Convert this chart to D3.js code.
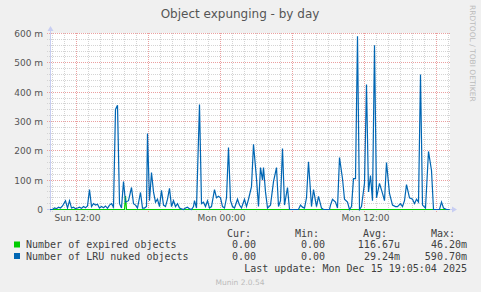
<!DOCTYPE html>
<html><head><meta charset="utf-8">
<script src="https://cdn.jsdelivr.net/npm/d3@7"></script>
<style>html,body{margin:0;padding:0;background:#F0F0F0;}svg{display:block;}</style>
</head><body>
<script>
// ---- data (values in milli-units "m") ----
const title = "Object expunging - by day";
const startTime = new Date(2025, 11, 14, 9, 45); // 5-minute steps from here
const stepMinutes = 5;
const totalSteps = 400;
const yTicks = [0, 100, 200, 300, 400, 500, 600];
const yTickLabels = ["0", "100 m", "200 m", "300 m", "400 m", "500 m", "600 m"];
const xTickLabels = ["Sun 12:00", "Mon 00:00", "Mon 12:00"];
const seriesNames = ["Number of expired objects", "Number of LRU nuked objects"];
const seriesColors = ["#00CC00", "#0066B3"];
const curVals = ["0.00", "0.00"];
const minVals = ["0.00", "0.00"];
const avgVals = ["116.67u", "29.24m"];
const maxVals = ["46.20m", "590.70m"];
const lastUpdate = "Last update: Mon Dec 15 19:05:04 2025";

const expiredSteps = [0, 75, 76, 77, 400];
const expiredValues = [0, 0, 46.2, 0, 0];

const lruSteps = [
  0,3,5,7,9,11,13,16,18,20,
  22,24,26,28,30,32,34,36,38,40,
  42,44,46,48,50,52,54,56,58,60,
  62,64,66,68,70,72,74,76,79,82,
  84,86,88,91,93,95,97,98,100,102,
  104,106,108,110,112,114,116,118,120,122,
  124,126,128,130,132,134,136,138,140,142,
  144,145,147,150,152,154,156,158,160,162,
  165,167,169,171,173,175,177,179,181,183,
  185,188,190,192,195,197,199,202,204,207,
  209,211,213,214,216,218,221,224,227,229,
  231,233,235,238,240,243,246,249,251,253,
  255,257,259,262,264,267,269,272,274,277,
  280,281,283,286,288,290,293,295,298,300,
  302,304,306,308,310,312,315,317,319,321,
  323,325,327,330,333,335,337,340,343,346,
  348,351,353,355,357,360,363,365,367,369,
  371,373,376,379,382,384,387,390,392,394,
  397,400];
const lruValues = [
  0,0,5,3,8,5,12,30,5,30,
  5,8,3,5,8,4,10,6,12,68,
  10,20,15,18,5,10,6,12,4,15,
  20,8,341,355,20,5,95,25,30,75,
  20,15,5,58,5,5,10,259,30,126,
  60,25,35,10,65,15,10,35,72,10,
  30,10,20,5,2,0,5,8,2,0,
  10,30,5,358,20,25,10,30,5,10,
  68,40,45,40,10,5,40,211,30,10,
  5,35,15,5,35,10,35,78,222,105,
  10,143,100,143,60,5,15,95,143,10,
  30,208,15,75,0,0,0,0,15,8,
  5,40,163,10,68,10,45,5,0,0,
  0,15,35,25,5,177,105,35,25,0,
  10,105,105,590.7,0,10,90,426,60,116,
  30,560,40,89,55,30,160,55,15,10,
  10,20,10,30,85,40,35,20,35,25,
  460,15,5,198,133,0,0,0,25,5,
  0,0];

// ---- drawing ----
const W = 481, H = 292;
const svg = d3.select("body").append("svg").attr("width", W).attr("height", H);
svg.append("rect").attr("width", W).attr("height", H).attr("fill", "#F0F0F0");

const endTime = new Date(startTime.getTime() + totalSteps * stepMinutes * 60000);
const x = d3.scaleTime().domain([startTime, endTime]).range([49.5, 449.5]);
const y = d3.scaleLinear().domain([0, 600]).range([209.5, 33.5]);
const tOf = s => new Date(startTime.getTime() + s * stepMinutes * 60000);
const crisp = v => Math.floor(v) + 0.5;

// canvas
svg.append("rect").attr("x", 50).attr("y", 33).attr("width", 400).attr("height", 176).attr("fill", "#FFFFFF");

const grid = svg.append("g");
// minor vertical (hourly)
x.ticks(d3.timeHour.every(1)).forEach(t => {
  const major = t.getHours() % 6 === 0;
  grid.append("line").attr("x1", crisp(x(t))).attr("x2", crisp(x(t)))
    .attr("y1", 33).attr("y2", 212)
    .attr("stroke", major ? "#EBA0A0" : "#D4D4D4").attr("stroke-dasharray", "1,1");
});
// horizontal every 20m
d3.range(20, 601, 20).forEach(v => {
  const major = v % 100 === 0;
  grid.append("line").attr("x1", 47).attr("x2", 450)
    .attr("y1", crisp(y(v))).attr("y2", crisp(y(v)))
    .attr("stroke", major ? "#EBA0A0" : "#D4D4D4").attr("stroke-dasharray", "1,1");
});

// axes
const axisColor = "#C8CEF2";
svg.append("line").attr("x1", 47).attr("x2", 453).attr("y1", 209.5).attr("y2", 209.5).attr("stroke", axisColor);
svg.append("line").attr("x1", 50.5).attr("x2", 50.5).attr("y1", 212).attr("y2", 30).attr("stroke", axisColor);
svg.append("path").attr("d", "M452,206.5 L457,209.5 L452,212.5 Z").attr("fill", axisColor);
svg.append("path").attr("d", "M47.5,31 L50.5,26 L53.5,31 Z").attr("fill", axisColor);

// y labels
svg.append("g").selectAll("text").data(yTicks).join("text")
  .attr("x", 43).attr("y", d => y(d) + 3.5)
  .attr("text-anchor", "end").attr("font-family", "DejaVu Sans").attr("font-size", "9px")
  .attr("fill", "#555").text((d, i) => yTickLabels[i]);

// x labels
const xLabelTimes = [new Date(2025, 11, 14, 12), new Date(2025, 11, 15, 0), new Date(2025, 11, 15, 12)];
svg.append("g").selectAll("text").data(xLabelTimes).join("text")
  .attr("x", d => crisp(x(d)) + 1).attr("y", 221)
  .attr("text-anchor", "middle").attr("font-family", "DejaVu Sans").attr("font-size", "9px")
  .attr("fill", "#555").text((d, i) => xTickLabels[i]);

// lines
const clip = svg.append("clipPath").attr("id", "pc").append("rect")
  .attr("x", 50).attr("y", 25).attr("width", 401).attr("height", 186);
const line = d3.line().x(d => x(tOf(d[0]))).y(d => y(d[1]));
const expData = expiredSteps.map((s, i) => [s, expiredValues[i]]);
const lruData = lruSteps.map((s, i) => [s, lruValues[i]]);
svg.append("path").datum(expData).attr("d", line).attr("fill", "none")
  .attr("stroke", seriesColors[0]).attr("stroke-width", 1.2).attr("clip-path", "url(#pc)");
svg.append("path").datum(lruData).attr("d", line).attr("fill", "none")
  .attr("stroke", seriesColors[1]).attr("stroke-width", 1.2).attr("stroke-linejoin", "miter").attr("clip-path", "url(#pc)");

// title
svg.append("text").attr("x", 240).attr("y", 18).attr("text-anchor", "middle")
  .attr("font-family", "DejaVu Sans").attr("font-size", "12px").attr("fill", "#555").text(title);

// watermark
svg.append("text").attr("transform", "translate(470,5) rotate(90)")
  .attr("font-family", "DejaVu Sans").attr("font-size", "7.5px").attr("fill", "#BBBBBB")
  .text("RRDTOOL / TOBI OETIKER");

// legend
const mono = "DejaVu Sans Mono";
const lg = svg.append("g").attr("font-family", mono).attr("font-size", "10px").attr("fill", "#404040");
[["Cur:", 227], ["Min:", 295], ["Avg:", 363], ["Max:", 431]].forEach(([t, px]) => {
  lg.append("text").attr("x", px).attr("y", 237).text(t);
});
seriesNames.forEach((n, i) => {
  const by = 248 + i * 11.5;
  lg.append("rect").attr("x", 14).attr("y", by - 6.5).attr("width", 6).attr("height", 6).attr("fill", seriesColors[i]);
  lg.append("text").attr("x", 26).attr("y", by).text(n);
  lg.append("text").attr("x", 256).attr("y", by).attr("text-anchor", "end").text(curVals[i]);
  lg.append("text").attr("x", 325).attr("y", by).attr("text-anchor", "end").text(minVals[i]);
  lg.append("text").attr("x", 400).attr("y", by).attr("text-anchor", "end").text(avgVals[i]);
  lg.append("text").attr("x", 467).attr("y", by).attr("text-anchor", "end").text(maxVals[i]);
});
lg.append("text").attr("x", 467).attr("y", 272).attr("text-anchor", "end").text(lastUpdate);

svg.append("text").attr("x", 240).attr("y", 284.5).attr("text-anchor", "middle")
  .attr("font-family", "DejaVu Sans").attr("font-size", "7.5px").attr("fill", "#BBBBBB").text("Munin 2.0.54");
</script>
</body></html>
